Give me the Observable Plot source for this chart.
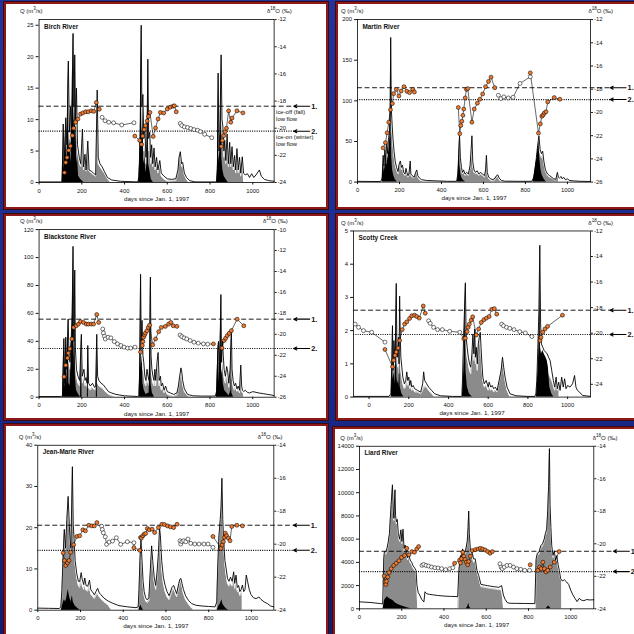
<!DOCTYPE html>
<html>
<head>
<meta charset="utf-8">
<script src="https://cdn.jsdelivr.net/npm/d3@7"></script>
<script src="https://cdn.jsdelivr.net/npm/@observablehq/plot@0.6"></script>
<style>
html,body{margin:0;padding:0;}
body{width:634px;height:634px;overflow:hidden;position:relative;
 background:linear-gradient(180deg,#22349c 0%,#1a2b8e 55%,#101d74 100%);
 font-family:'Liberation Sans',Arial,Helvetica,sans-serif;}
.panel{position:absolute;box-sizing:border-box;background:#fff;border:2px solid #8e1717;box-shadow:0 0 0 1px #3b0b10;}
.panel svg{position:absolute;left:-2px;top:-2px;}
.lab{position:absolute;font-size:6px;line-height:8px;color:#111;white-space:nowrap;}
.lab sup{font-size:4.5px;vertical-align:3px;line-height:0;}
</style>
</head>
<body>
<script>
// ---------- shared ticks ----------
const dayTicks = [0, 200, 400, 600, 800, 1000];

// ---------- Birch River ----------
const birchQ = [[0,0.1],[100,0.1],[108,0.3],[113,9.3],[118,3],[125,10.3],[130,6],[137,19.3],[142,8],[148,12],[152,6],[159,23.7],[163,12],[167,20.3],[171,10],[175,15],[180,6],[188,4],[195,3],[203,8.5],[208,2.5],[215,4.5],[220,2],[228,6.6],[234,2],[245,1.8],[255,1.5],[265,1.2],[272,14.7],[277,4],[285,3],[295,2.5],[305,1.8],[320,0.8],[340,0.4],[380,0.2],[462,0.1],
[468,1],[473,8],[478,25],[481,12],[486,14],[490,7],[495,9],[500,4],[505,6],[509,19.6],[513,7],[518,8],[522,4],[527,6],[532,3],[538,5.5],[543,2.5],[550,4],[556,2],[565,3.5],[572,1.5],[585,1],[600,0.6],[620,0.5],[640,0.6],[650,2],[655,4],[661,4.9],[667,3],[672,3.2],[680,1.5],[690,0.8],[705,0.3],[730,0.1],[830,0.1],
[835,2],[838,17.4],[842,5],[846,8],[852,20.3],[856,10],[860,9],[865,5],[869,6.7],[874,3.5],[880,7.7],[886,3],[892,6.4],[897,3],[903,5.7],[909,2.5],[915,4.3],[920,2],[926,5.4],[932,2],[938,4],[944,1.5],[951,4.1],[957,1.5],[965,1.2],[975,1.4],[985,0.8],[995,1.4],[1005,0.8],[1015,1.2],[1031,2],[1040,1],[1055,0.5],[1075,0.3],[1100,0.2]];
const birchGray = [[105,0],[113,5],[118,2],[125,6],[130,4],[137,9],[142,6],[148,8],[152,14],[156,18],[160,10],[165,21],[170,9],[175,11],[180,5],[190,3],[195,2.5],[203,7],[208,2],[215,4],[220,1.8],[228,5.5],[234,1.8],[245,1.5],[255,1.2],[265,1],[272,13],[277,3],[285,2.5],[295,2],[305,1.5],[320,0.6],[335,0],
[465,0],[472,4],[478,16],[482,8],[486,10],[490,5],[495,7],[500,3],[505,5],[509,12],[513,5],[518,7],[522,3],[527,5],[532,2.5],[538,4.5],[543,2],[550,3.5],[556,1.5],[565,3],[572,1],[585,0.5],[600,0.2],[640,0.3],[650,1.5],[655,3.5],[661,4.5],[667,2.5],[672,2.8],[680,1.2],[690,0.5],[700,0],
[832,0],[838,8],[842,4],[846,7],[852,12],[856,8],[860,7],[865,4],[869,6],[874,3],[880,6.5],[886,2.5],[892,5.5],[897,2.5],[903,5],[909,2],[915,3.5],[920,1.5],[926,4.5],[932,1.5],[938,3],[944,1],[951,3.5],[956,1.2],[957,0]];
const birchBlack = [[108,0],[112,4],[115,9.3],[118,2],[122,6],[125,10.3],[129,3],[133,8],[137,19.3],[140,5],[145,7],[148,3],[152,5],[156,14],[159,23.7],[162,8],[165,12],[167,20],[170,6],[173,9],[176,3],[180,4],[185,1],[195,0.5],[210,0],
[466,0],[470,3],[474,7],[478,25],[481,6],[484,9],[486,14],[489,3],[495,4],[500,1.5],[505,3],[509,19.6],[512,3],[518,2],[525,0.5],[535,0],
[832,0],[835,3],[838,17.4],[841,3],[846,5],[850,8],[852,20.3],[855,4],[860,2],[866,1],[875,0.5],[885,0]];
const birchIso = [[119,-23.27,"o",1],[125,-22.52,"o",1],[131,-22.16,"o",1],[139,-21.63,"o",1],[147,-21.31,"o",1],[156,-20.54,"o",1],[162,-20.0,"o",1],[171,-19.56,"o",1],[182,-19.32,"o",1],[194,-18.96,"o",1],[205,-18.87,"o",1],[218,-18.79,"o",1],[230,-18.79,"o",1],[244,-18.72,"o",1],[256,-18.76,"o",1],[268,-18.11,"o",1],[282,-18.6,"o",1],
[295,-19.2,"w",2],[309,-19.45,"w",2],[326,-19.56,"w",2],[349,-19.6,"w",2],[387,-19.76,"w",2],[444,-19.6,"w",2],
[448,-20.58,"o",3],[471,-20.9,"o",3],[480,-21.19,"o",3],[485,-20.58,"o",3],[492,-20.1,"o",3],[498,-19.81,"o",3],[506,-19.47,"o",3],[512,-19.13,"o",3],[519,-18.84,"o",3],[534,-20.61,"o",3],[545,-19.98,"o",3],[557,-19.32,"o",3],[568,-18.84,"o",3],[583,-18.88,"o",3],[600,-18.59,"o",3],[614,-18.45,"o",3],[627,-18.38,"o",3],[633,-18.35,"o",3],[642,-18.79,"o",3],
[661,-19.65,"w",4],[668,-19.8,"w",4],[680,-19.9,"w",4],[695,-19.95,"w",4],[710,-20.02,"w",4],[725,-20.1,"w",4],[742,-20.15,"w",4],[755,-20.25,"w",4],[775,-20.45,"w",4],[808,-20.7,"w",4],
[853,-21.34,"o",5],[858,-20.9,"o",5],[864,-20.56,"o",5],[870,-20.27,"o",5],[877,-20.0,"o",5],[887,-18.72,"o",5],[897,-19.56,"o",5],[903,-19.25,"o",5],[926,-18.72,"o",5],[954,-18.87,"o",5]];
const birchThr = [-18.38, -20.22];
const birchNotes = ["ice-off (fall)\nlow flow", "ice-on (winter)\nlow flow"];
const birchQTicks = [0, 5, 10, 15, 20, 25];
const birchDTicks = [-24, -22, -20, -18, -16, -14, -12];

// ---------- Martin River ----------
const martinQ = [[0,1],[50,0.8],[110,0.7],[118,5],[122,33],[126,20],[130,40],[134,25],[138,49],[142,35],[148,55],[152,61],[156,90],[158,178],[161,90],[165,70],[169,53],[174,38],[180,25],[186,18],[193,13],[198,22],[204,26],[209,18],[214,21],[220,12],[226,10],[231,17],[235,12],[240,8],[245,10],[251,26],[254,10],[260,8],[270,6],[277,12],[282,15],[287,8],[295,5],[305,3],[330,2],[380,1.5],[430,1],[472,1],
[478,10],[482,35],[486,57],[490,30],[495,18],[500,12],[505,15],[512,10],[520,12],[528,10],[536,20],[541,40],[545,57],[549,25],[555,15],[562,12],[570,14],[578,10],[585,12],[595,10],[605,8],[610,15],[614,33],[618,12],[625,6],[635,4],[645,3],[655,5],[662,8],[668,9],[675,5],[685,2],[700,1.2],[760,1],[830,1],
[838,5],[845,15],[852,30],[858,45],[864,57],[870,40],[876,35],[882,38],[888,25],[895,15],[905,10],[915,8],[925,6],[935,4],[945,3.5],[952,12],[957,6],[962,5],[970,7],[975,4],[982,6],[990,3],[1000,4],[1010,2],[1030,1.5],[1060,1],[1110,0.8]];
const martinGray = [[115,0],[120,20],[126,15],[130,30],[134,20],[138,40],[142,30],[148,45],[152,50],[156,70],[158,100],[161,75],[165,60],[169,45],[174,32],[180,20],[186,15],[193,10],[198,18],[204,22],[209,15],[214,17],[220,10],[226,8],[231,14],[235,10],[240,6],[245,8],[251,20],[254,8],[260,6],[270,5],[277,10],[282,12],[287,6],[295,3],[305,1],[315,0],
[474,0],[480,8],[484,25],[486,40],[490,25],[495,15],[500,10],[505,13],[512,8],[520,10],[528,8],[536,16],[541,30],[545,40],[549,20],[555,12],[562,10],[570,11],[578,8],[585,10],[595,8],[605,6],[610,12],[614,25],[618,10],[625,4],[635,2],[645,1],[655,3],[662,6],[668,7],[675,3],[685,0],
[835,0],[840,4],[845,12],[852,25],[858,38],[864,50],[870,35],[876,30],[882,32],[888,22],[895,13],[905,8],[915,6],[925,5],[935,3],[945,2.5],[952,9],[957,5],[957.5,0]];
const martinBlack = [[118,0],[121,30],[124,10],[128,25],[132,15],[136,35],[140,20],[145,30],[150,40],[155,60],[158,178],[160,60],[163,30],[167,15],[172,8],[180,3],[190,0],
[476,0],[480,15],[484,40],[486,57],[488,20],[492,10],[497,5],[505,2],[515,0],
[836,0],[842,8],[848,20],[855,30],[861,45],[864,50],[868,30],[874,15],[880,8],[890,3],[900,0]];
const martinIso = [[122,-23.05,"o",1],[133,-22.6,"o",1],[141,-21.75,"o",1],[149,-20.84,"o",1],[157,-19.77,"o",1],[166,-19.23,"o",1],[172,-18.38,"o",1],[185,-18.01,"o",1],[197,-18.58,"o",1],[208,-18.15,"o",1],[221,-17.78,"o",1],[235,-18.18,"o",1],[248,-18.29,"o",1],[263,-18.01,"o",1],[271,-18.24,"o",1],
[480,-19.57,"o",2],[487,-21.83,"o",2],[492,-21.13,"o",2],[497,-20.76,"o",2],[502,-20.25,"o",2],[506,-19.71,"o",2],[513,-18.75,"o",2],[519,-18.01,"o",2],[525,-17.95,"o",2],[545,-20.84,"o",2],[556,-19.71,"o",2],[571,-19.2,"o",2],[583,-18.86,"o",2],[596,-18.41,"o",2],[610,-17.78,"o",2],[624,-17.33,"o",2],[636,-16.96,"o",2],[654,-17.87,"o",2],
[671,-18.52,"w",3],[683,-18.8,"w",3],[697,-18.66,"w",3],[718,-18.75,"w",3],[741,-18.69,"w",3],[774,-17.5,"w",3],[823,-16.93,"w",3],[823,-16.59,"o",3],[862,-21.78,"o",3],[871,-20.98,"o",3],[878,-20.33,"o",3],[884,-20.22,"o",3],[890,-20.05,"o",3],[898,-19.94,"o",3],[906,-19.09,"o",3],[937,-18.72,"o",3],[964,-18.86,"o",3]];
const martinThr = [-17.87, -18.89];
const martinQTicks = [0, 50, 100, 150, 200];
const martinDTicks = [-26, -24, -22, -20, -18, -16, -14, -12];

// ---------- Blackstone River ----------
const blackstoneQ = [[0,0.5],[100,0.5],[110,1],[116,42],[120,10],[125,43],[130,20],[136,56],[140,30],[145,25],[150,40],[155,60],[159,108],[163,40],[167,91],[170,35],[175,20],[182,15],[190,12],[198,45],[202,15],[210,20],[215,12],[220,14],[225,10],[228,37],[232,10],[240,8],[250,10],[260,7],[265,8],[270,45],[274,15],[280,12],[290,10],[300,9],[310,7],[325,4],[340,3],[360,2],[400,1],[460,0.5],
[468,1],[472,30],[475,88],[478,40],[482,55],[486,30],[490,25],[495,15],[500,12],[505,20],[510,15],[515,12],[518,30],[521,86],[524,30],[528,20],[533,15],[538,12],[542,20],[546,12],[552,25],[557,32],[562,12],[568,15],[572,8],[578,10],[585,5],[592,8],[600,4],[615,3],[630,2],[645,3],[652,8],[658,15],[664,21],[668,18],[672,12],[680,6],[695,2],[720,1],[760,0.8],[825,0.8],
[832,5],[836,30],[840,40],[844,15],[848,45],[851,73.5],[854,25],[858,40],[862,30],[866,20],[872,15],[878,22],[883,18],[888,10],[894,20],[900,49],[903,20],[908,12],[914,8],[920,10],[926,6],[932,8],[938,5],[944,23],[948,8],[952,5],[958,4],[965,5],[975,3.5],[985,3],[1000,4],[1015,3.5],[1030,3],[1050,2.5],[1070,2],[1090,1.5],[1100,1]];
const blackstoneGray = [[110,0],[116,20],[120,8],[125,25],[130,15],[136,35],[140,25],[145,20],[150,30],[155,45],[159,60],[163,30],[167,50],[170,25],[175,15],[182,10],[190,8],[198,35],[202,10],[210,15],[215,8],[220,10],[225,7],[228,30],[232,7],[240,5],[250,7],[260,5],[265,6],[270,38],[274,10],[280,8],[290,7],[300,6],[310,4],[325,2],[340,1],[360,0],
[466,0],[472,15],[475,45],[478,25],[482,35],[486,20],[490,18],[495,10],[500,8],[505,15],[510,10],[515,8],[518,20],[521,50],[524,20],[528,15],[533,10],[538,8],[542,15],[546,8],[552,18],[557,25],[562,8],[568,10],[572,5],[578,7],[585,3],[592,5],[600,2],[615,1],[630,0.5],[645,1.5],[652,6],[658,12],[664,18],[668,14],[672,9],[680,4],[695,1],[710,0],
[828,0],[832,3],[836,20],[840,28],[844,10],[848,30],[851,40],[854,18],[858,30],[862,22],[866,14],[872,10],[878,16],[883,13],[888,7],[894,15],[900,35],[903,14],[908,8],[914,5],[920,7],[926,4],[932,6],[938,3],[944,18],[948,5],[952,3],[957,2.5],[957.5,0]];
const blackstoneBlack = [[110,0],[116,42],[119,5],[125,43],[129,8],[136,56],[139,10],[145,8],[150,25],[155,50],[159,108],[162,20],[167,91],[170,15],[175,5],[185,2],[194,0],[198,45],[201,0],[226,0],[228,37],[231,0],[268,0],[270,45],[273,0],
[468,0],[472,25],[475,88],[478,20],[482,30],[486,10],[492,5],[500,2],[515,3],[518,25],[521,86],[524,10],[530,3],[540,0],
[830,0],[834,20],[837,35],[840,40],[843,10],[848,40],[851,73.5],[854,15],[858,20],[862,10],[868,5],[878,3],[890,1],[898,5],[900,49],[902,3],[910,0]];
const blackstoneIso = [[117,-24.05,"o",1],[125,-22.95,"o",1],[133,-22.26,"o",1],[137,-21.79,"o",1],[144,-21.38,"o",1],[154,-20.44,"o",1],[162,-19.34,"o",1],[174,-19.18,"o",1],[184,-19.02,"o",1],[194,-18.77,"o",1],[208,-18.86,"o",1],[221,-19.02,"o",1],[231,-19.02,"o",1],[244,-19.02,"o",1],[255,-19.02,"o",1],[270,-18.11,"o",1],[279,-18.86,"o",1],
[298,-19.49,"w",2],[301,-19.87,"w",2],[306,-20.18,"w",2],[310,-20.44,"w",2],[323,-20.28,"w",2],[336,-20.34,"w",2],[352,-20.69,"w",2],[367,-20.91,"w",2],[383,-21.06,"w",2],[398,-21.22,"w",2],[414,-21.31,"w",2],[429,-21.31,"w",2],[449,-21.22,"w",2],
[475,-21.69,"o",3],[483,-21.06,"o",3],[486,-20.69,"o",3],[489,-20.28,"o",3],[494,-20.06,"o",3],[498,-19.87,"o",3],[505,-19.65,"o",3],[511,-19.34,"o",3],[517,-19.12,"o",3],[532,-21.0,"o",3],[545,-20.44,"o",3],[560,-19.74,"o",3],[572,-19.34,"o",3],[591,-19.24,"o",3],[606,-19.02,"o",3],[617,-18.86,"o",3],[628,-19.18,"o",3],[645,-19.24,"o",3],
[660,-20.06,"w",4],[668,-20.22,"w",4],[679,-20.34,"w",4],[691,-20.44,"w",4],[707,-20.59,"w",4],[725,-20.75,"w",4],[745,-20.84,"w",4],[769,-20.91,"w",4],[789,-20.94,"w",4],[816,-20.91,"o",4],
[856,-21.31,"o",5],[866,-20.59,"o",5],[873,-20.37,"o",5],[881,-20.12,"o",5],[890,-19.9,"o",5],[900,-19.65,"o",5],[927,-18.55,"o",5],[958,-19.18,"o",5]];
const blackstoneThr = [-18.55, -21.35];
const blackstoneQTicks = [0, 20, 40, 60, 80, 100, 120];
const blackstoneDTicks = [-26, -24, -22, -20, -18, -16, -14, -12, -10];

// ---------- Scotty Creek ----------
const scottyQ = [[-78,0.02],[0,0.02],[100,0.02],[110,0.1],[115,1],[118,2.15],[121,0.8],[125,1.7],[130,1.2],[134,2],[137,3.42],[140,1.5],[144,1.2],[148,1.8],[151,1],[154,3.04],[157,1.9],[160,1.2],[165,0.9],[170,0.6],[178,0.4],[185,0.5],[190,0.76],[195,0.5],[200,0.6],[205,0.35],[210,0.5],[215,0.3],[222,0.35],[230,0.25],[245,0.2],[260,0.15],[270,0.4],[275,0.76],[280,0.5],[290,0.4],[300,0.3],[315,0.2],[330,0.1],[360,0.04],[420,0.02],[465,0.02],
[468,0.05],[472,0.8],[476,1.8],[480,2.5],[485,3.44],[489,1.8],[494,1.5],[500,1.2],[506,1.0],[512,0.9],[518,1.3],[523,1.9],[528,1.3],[532,2.05],[536,1.2],[540,1.5],[545,1.0],[550,1.6],[555,1.8],[560,1.95],[564,1.5],[568,1.06],[573,0.6],[580,0.4],[590,0.5],[600,0.3],[605,0.45],[613,0.3],[620,0.35],[628,0.25],[636,0.3],[645,0.2],[655,0.5],[665,0.8],[672,1.2],[678,0.9],[685,0.6],[695,0.3],[710,0.1],[740,0.04],[800,0.02],[835,0.02],
[840,0.1],[845,0.5],[850,1.5],[855,2.5],[860,4.57],[864,2.2],[868,1.6],[875,1.5],[882,1.4],[890,1.35],[897,1.3],[904,1.2],[912,1.1],[920,0.8],[928,0.5],[935,0.3],[942,0.6],[948,0.25],[955,0.45],[962,0.2],[970,0.6],[978,0.3],[985,0.55],[992,0.25],[1000,0.35],[1012,0.3],[1025,0.4],[1035,0.65],[1042,0.3],[1050,0.2],[1060,0.15],[1075,0.05],[1115,0.02]];
const scottyGray = [[112,0],[116,0.8],[118,1.5],[121,0.6],[125,1.2],[130,0.9],[134,1.4],[137,2.2],[140,1.1],[144,0.9],[148,1.3],[151,0.7],[154,1.9],[157,1.2],[160,0.8],[165,0.6],[170,0.4],[178,0.25],[185,0.3],[190,0.55],[195,0.35],[200,0.45],[205,0.25],[210,0.35],[215,0.2],[222,0.25],[230,0.15],[245,0.15],[260,0.1],[270,0.2],[275,0.3],[280,0.3],[290,0.3],[300,0.2],[315,0.1],[330,0],
[468,0],[472,0.6],[476,1.4],[480,2.0],[485,2.8],[489,1.5],[494,1.2],[500,1.0],[506,0.8],[512,0.7],[518,1.1],[523,1.7],[528,1.1],[532,1.85],[536,1.0],[540,1.3],[545,0.8],[550,1.4],[555,1.6],[560,1.8],[564,1.3],[568,0.9],[573,0.5],[580,0.3],[590,0.35],[600,0.2],[605,0.3],[613,0.2],[620,0.25],[628,0.15],[636,0.2],[645,0.15],[655,0.45],[665,0.75],[672,1.1],[678,0.8],[685,0.5],[695,0.2],[710,0],
[842,0],[845,0.3],[850,1.0],[855,1.8],[860,3.2],[864,1.6],[868,1.2],[875,1.0],[882,0.9],[890,0.8],[897,0.8],[904,0.7],[912,0.6],[920,0.5],[928,0.35],[935,0.2],[942,0.4],[948,0.2],[955,0.35],[957,0.3],[957.5,0]];
const scottyBlack = [[112,0],[116,1.0],[118,2.15],[121,0.5],[125,0.8],[130,0.4],[134,1.0],[137,3.42],[140,0.6],[144,0.4],[148,0.5],[151,0.3],[154,1.2],[157,0.3],[165,0.1],[175,0],
[470,0],[475,0.5],[480,1.2],[485,3.44],[488,0.8],[495,0.3],[505,0.1],[520,0],
[843,0],[848,0.5],[853,1.0],[858,2.0],[860,4.57],[863,1.5],[868,1.3],[875,1.4],[882,1.3],[890,1.2],[897,1.1],[903,0.9],[910,0.3],[920,0.1],[930,0]];
const scottyIso = [[-70,-19.29,"w",1],[-53,-19.54,"w",1],[-28,-19.8,"w",1],[13,-19.93,"w",1],[80,-20.7,"w",1],
[80,-21.27,"o",2],[118,-22.63,"o",2],[124,-22.12,"o",2],[131,-21.73,"o",2],[137,-21.47,"o",2],[146,-21.16,"o",2],[154,-20.57,"o",2],[167,-19.72,"o",2],[179,-19.29,"o",2],[190,-19.11,"o",2],[204,-18.85,"o",2],[215,-18.64,"o",2],[229,-18.59,"o",2],[240,-18.69,"o",2],[253,-18.82,"o",2],[273,-17.87,"o",2],[283,-18.44,"o",2],
[300,-19.03,"w",3],[308,-19.23,"w",3],[325,-19.54,"w",3],[345,-19.72,"w",3],[369,-19.72,"w",3],[406,-19.85,"w",3],[457,-19.93,"w",3],
[477,-20.44,"o",3],[485,-20.39,"o",3],[494,-19.88,"o",3],[499,-19.54,"o",3],[505,-19.29,"o",3],[514,-18.98,"o",3],[522,-18.72,"o",3],[540,-20.14,"o",3],[552,-19.67,"o",3],[565,-19.16,"o",3],[578,-18.95,"o",3],[591,-18.82,"o",3],[605,-18.69,"o",3],[618,-18.13,"o",3],[631,-18.08,"o",3],[643,-18.51,"o",3],
[668,-19.29,"w",4],[677,-19.42,"w",4],[692,-19.54,"w",4],[709,-19.62,"w",4],[730,-19.72,"w",4],[759,-19.88,"w",4],[787,-19.98,"w",4],[820,-20.26,"w",4],
[861,-20.57,"o",5],[866,-20.32,"o",5],[875,-19.93,"o",5],[886,-19.67,"o",5],[899,-19.47,"o",5],[974,-18.59,"o",5]];
const scottyThr = [-18.2, -20.1];
const scottyQTicks = [0, 1, 2, 3, 4, 5];
const scottyDTicks = [-24, -22, -20, -18, -16, -14, -12];

// ---------- Jean-Marie River ----------
const jeanMarieQ = [[0,0.5],[50,0.45],[100,0.4],[108,0.8],[113,5],[118,12.5],[124,19.6],[130,15],[136,22],[142,27.6],[146,22.8],[150,18],[155,15],[162,34.8],[166,20.8],[170,17.2],[175,12],[182,9],[190,7],[196,6.9],[203,9.1],[208,7.5],[215,6.2],[220,7.8],[226,6],[234,5.8],[242,7.3],[248,5],[255,4.5],[265,3.7],[272,4.5],[280,5.3],[288,4.2],[295,3.8],[310,2.9],[330,2.2],[350,1.7],[380,1.1],[420,0.8],[460,0.6],
[470,0.8],[474,5],[478,12],[483,17],[488,12],[493,7],[498,4.5],[505,3],[512,2.5],[520,3],[527,10],[533,15.6],[538,12],[545,8],[552,6],[558,9],[565,14],[570,20],[574,18],[580,12],[588,8],[596,6],[605,4.5],[615,3.5],[628,5.5],[636,6],[643,5],[650,4],[660,6.5],[665,7.5],[670,7.7],[675,6.5],[682,5],[692,3.5],[705,2.4],[720,1.6],[740,1.2],[770,1],[800,0.9],[830,0.8],
[838,2],[842,10],[848,18],[854,22],[858,25],[862,32],[866,22],[870,17],[876,12],[882,10],[888,7.7],[895,7],[902,8],[910,7],[917,9.3],[922,6.5],[928,8.5],[934,5.5],[940,6],[946,4.5],[952,5],[958,6.1],[964,4.5],[970,5],[976,8.5],[982,7],[990,5],[998,3.8],[1010,3],[1022,2.8],[1035,3.2],[1045,2.6],[1060,2],[1075,1.6],[1090,1],[1105,0.8]];
const jeanMarieGray = [[108,0],[113,4],[118,12],[124,19],[130,14.5],[136,21],[142,27],[146,22],[150,17.5],[155,14.5],[162,34],[166,20],[170,16.5],[175,11],[182,8],[190,6],[196,5.5],[203,7.5],[208,6],[215,5],[220,6.2],[226,4.8],[234,4.6],[242,5.8],[248,3.8],[255,3.5],[265,2.8],[272,3.5],[280,4.0],[288,3.2],[295,2.8],[310,2],[330,1.2],[345,0],
[470,0],[474,4.5],[478,11],[483,16],[488,11],[493,6],[498,3.5],[505,2.2],[512,1.8],[520,2.2],[527,8.5],[533,14],[538,11],[545,7],[552,5],[558,7.5],[565,12.5],[570,18.5],[574,16],[580,10],[588,6.5],[596,4.5],[605,3.2],[615,2.5],[628,4.5],[636,5.2],[643,4.2],[650,3.2],[660,5.5],[665,6.8],[670,7],[675,5.8],[682,4],[692,2.5],[705,1.5],[720,0.5],[730,0],
[836,0],[842,9],[848,17],[854,21],[858,24],[862,31],[866,21],[870,16],[876,11],[882,8.5],[888,6.5],[895,5.8],[902,6.5],[910,5.8],[917,7.8],[922,5.2],[928,7],[934,4.5],[940,4.8],[946,3.5],[952,4],[957,4.8],[957.5,0]];
const jeanMarieBlack = [[110,0],[118,1.5],[124,2.5],[130,2],[136,3],[142,5],[146,4],[150,3],[155,2],[162,3.5],[166,2],[175,1],[190,0.3],[200,0],
[474,0],[478,0.8],[483,1.2],[488,0.5],[495,0],
[840,0],[848,1],[854,1.5],[858,2],[862,2.5],[866,1.5],[875,0.8],[885,0.2],[895,0]];
const jeanMarieIso = [[119,-20.53,"o",1],[125,-20.99,"o",1],[131,-21.29,"o",1],[139,-21.13,"o",1],[146,-20.99,"o",1],[154,-20.49,"o",1],[168,-20.03,"o",1],[183,-19.53,"o",1],[196,-19.49,"o",1],[211,-19.13,"o",1],[223,-19.19,"o",1],[239,-18.85,"o",1],[253,-18.89,"o",1],[265,-18.89,"o",1],[277,-18.69,"o",1],
[299,-18.91,"w",2],[302,-19.11,"w",2],[307,-19.31,"w",2],[316,-19.55,"w",2],[322,-20.01,"w",2],[334,-19.87,"w",2],[350,-19.81,"w",2],[368,-19.61,"w",2],[388,-20.01,"w",2],[419,-19.85,"w",2],[450,-19.91,"w",2],[450,-20.21,"o",2],[478,-20.37,"o",2],
[481,-19.59,"o",3],[485,-19.63,"o",3],[492,-19.49,"o",3],[498,-19.39,"o",3],[505,-19.35,"o",3],[513,-19.05,"o",3],[522,-19.13,"o",3],[535,-19.09,"o",3],[547,-19.29,"o",3],[565,-18.99,"o",3],[581,-18.79,"o",3],[593,-18.81,"o",3],[607,-18.89,"o",3],[621,-18.95,"o",3],[636,-18.99,"o",3],[652,-18.79,"o",3],
[666,-19.79,"w",4],[669,-19.99,"w",4],[675,-19.85,"w",4],[683,-19.79,"w",4],[693,-19.85,"w",4],[703,-19.69,"w",4],[716,-19.95,"w",4],[735,-19.99,"w",4],[755,-19.99,"w",4],[778,-19.99,"w",4],[797,-19.99,"w",4],[820,-20.19,"w",4],
[820,-19.53,"o",5],[858,-20.25,"o",5],[863,-20.05,"o",5],[869,-19.85,"o",5],[874,-19.59,"o",5],[878,-19.33,"o",5],[884,-19.49,"o",5],[892,-19.63,"o",5],[900,-19.79,"o",5],[908,-18.93,"o",5],[932,-18.85,"o",5],[958,-18.89,"o",5]];
const jeanMarieThr = [-18.85, -20.37];
const jeanMarieQTicks = [0, 10, 20, 30, 40];
const jeanMarieDTicks = [-24, -22, -20, -18, -16, -14];

// ---------- Liard River ----------
const liardQ = [[0,600],[50,550],[100,450],[110,420],[115,4300],[118,4930],[125,4900],[130,5200],[136,5720],[142,6500],[146,7800],[150,9000],[156,10680],[160,8500],[163,7800],[168,10250],[171,8000],[175,7500],[179,7700],[184,6500],[190,6000],[196,6800],[201,5800],[206,6860],[211,5200],[216,5500],[222,5000],[228,4400],[234,4700],[240,4200],[247,4020],[254,3700],[262,3500],[268,3300],[272,2040],[278,1400],[285,1190],[295,800],[305,600],[310,1470],[318,1300],[330,1250],[350,1200],[370,1150],[400,1100],[430,1070],[465,1050],
[470,3170],[474,4000],[478,4590],[483,4400],[488,5160],[495,4800],[502,5000],[510,5800],[514,7000],[517,8420],[520,6500],[525,5000],[533,4870],[540,4300],[548,4300],[556,3300],[564,2890],[575,2100],[590,2050],[605,2000],[620,1950],[640,1900],[660,1850],[673,2000],[681,1190],[690,800],[700,520],[712,480],[740,470],[780,460],[830,450],
[836,4300],[842,4800],[850,4900],[858,5440],[866,5600],[874,6000],[880,6500],[886,6860],[891,8500],[895,10540],[899,13800],[902,9000],[906,7000],[910,5440],[916,4600],[922,5000],[928,4200],[934,4590],[940,3800],[946,3300],[952,2600],[960,2400],[970,2500],[980,2320],[990,2100],[1000,1600],[1010,1200],[1020,900],[1030,620],[1040,900],[1050,750],[1062,700],[1075,800],[1090,765],[1109,780]];
const liardGray = [[113,0],[115,4000],[118,4700],[125,4700],[130,5000],[136,5500],[142,6300],[146,7600],[150,8800],[156,10400],[160,8300],[163,7600],[168,10000],[171,7800],[175,7300],[179,7500],[184,6300],[190,5800],[196,6600],[201,5600],[206,6600],[211,5000],[216,5300],[222,4800],[228,4200],[234,4500],[240,4000],[247,3800],[254,3500],[262,3300],[268,3100],[272,1800],[276,0],
[466,0],[470,3000],[474,3800],[478,4400],[483,4200],[488,5000],[495,4600],[502,4800],[510,5600],[514,6800],[517,8200],[520,6300],[525,4800],[533,4600],[540,4000],[548,4100],[556,3200],[564,2700],[575,1900],[590,1850],[605,1800],[620,1750],[640,1700],[660,1650],[672,1600],[678,900],[682,0],
[833,0],[836,4100],[842,4600],[850,4700],[858,5200],[866,5400],[874,5800],[880,6300],[886,6600],[891,8300],[895,10300],[899,13500],[902,8800],[906,6800],[910,5200],[916,4400],[922,4800],[928,4000],[934,4400],[940,3600],[946,3100],[952,2500],[957,2900],[957.5,0]];
const liardBlack = [[112,0],[118,700],[125,900],[132,1050],[140,900],[150,800],[160,700],[170,500],[185,350],[200,250],[215,150],[230,80],[245,0],
[505,0],[512,150],[517,480],[521,150],[528,0],
[884,0],[890,150],[895,250],[900,150],[906,0]];
const liardIso = [[117,-21.98,"o",1],[121,-22.34,"o",1],[125,-22.5,"o",1],[128,-22.3,"o",1],[134,-22.04,"o",1],[140,-21.77,"o",1],[150,-21.53,"o",1],[162,-21.33,"o",1],[174,-21.19,"o",1],[187,-21.04,"o",1],[199,-20.84,"o",1],[213,-20.72,"o",1],[224,-20.28,"o",1],[234,-20.68,"o",1],[248,-20.48,"o",1],[260,-20.52,"o",1],[271,-20.32,"o",1],[280,-20.17,"o",1],
[296,-21.33,"w",2],[304,-21.27,"w",2],[315,-21.33,"w",2],[327,-21.37,"w",2],[341,-21.43,"w",2],[357,-21.47,"w",2],[372,-21.49,"w",2],[389,-21.53,"w",2],[408,-21.59,"w",2],[427,-21.53,"w",2],[442,-21.47,"w",2],[450,-21.2,"o",2],[474,-21.0,"o",2],
[478,-21.17,"o",3],[483,-20.92,"o",3],[489,-20.52,"o",3],[494,-20.76,"o",3],[500,-20.96,"o",3],[506,-21.13,"o",3],[512,-21.29,"o",3],[517,-21.09,"o",3],[525,-20.76,"o",3],[533,-20.42,"o",3],[548,-20.36,"o",3],[561,-20.32,"o",3],[572,-20.28,"o",3],[583,-20.32,"o",3],[595,-20.38,"o",3],[607,-20.48,"o",3],[618,-20.58,"o",3],[629,-20.48,"o",3],
[665,-21.23,"w",4],[670,-21.43,"w",4],[676,-21.53,"w",4],[685,-21.43,"w",4],[698,-21.33,"w",4],[713,-21.33,"w",4],[729,-21.43,"w",4],[745,-21.53,"w",4],[763,-21.57,"w",4],[782,-21.63,"w",4],[805,-21.63,"w",4],
[808,-21.29,"o",5],
[844,-21.63,"o",6],[852,-21.43,"o",6],[860,-21.53,"o",6],[868,-21.13,"o",6],[875,-21.53,"o",6],[883,-21.73,"o",6],[891,-21.63,"o",6],[903,-21.43,"o",6],[922,-21.13,"o",6],[945,-20.48,"o",6]];
const liardThr = [-20.46, -21.71];
const liardQTicks = [0, 2000, 4000, 6000, 8000, 10000, 12000, 14000];
const liardDTicks = [-24, -22, -20, -18, -16, -14];

const thresholdLabels = ["1.", "2."];

// ---------- layout (page pixels) ----------
const panels = [
  {title:"Birch River", box:[4,2,328,209], frame:[39,19.3,277,184.3], xd:[0,1100], qd:[0,25.9], dd:[-24,-12],
   q:birchQ, gray:birchGray, black:birchBlack, iso:birchIso, thr:birchThr, qt:birchQTicks, dt:birchDTicks, notes:birchNotes, dlx:-10},
  {title:"Martin River", box:[336,2,644,209], frame:[357.3,19.3,593.4,184], xd:[0,1110], qd:[0,200], dd:[-26,-12],
   q:martinQ, gray:martinGray, black:martinBlack, iso:martinIso, thr:martinThr, qt:martinQTicks, dt:martinDTicks, dlx:-5},
  {title:"Blackstone River", box:[4,214,328,420], frame:[39,229.3,277,399], xd:[0,1100], qd:[0,120], dd:[-26,-10],
   q:blackstoneQ, gray:blackstoneGray, black:blackstoneBlack, iso:blackstoneIso, thr:blackstoneThr, qt:blackstoneQTicks, dt:blackstoneDTicks, dlx:-14},
  {title:"Scotty Creek", box:[336,214,644,420], frame:[353.3,230.7,593.3,399], xd:[-78,1115], qd:[0,5], dd:[-25,-12],
   q:scottyQ, gray:scottyGray, black:scottyBlack, iso:scottyIso, thr:scottyThr, qt:scottyQTicks, dt:scottyDTicks, dlx:-5},
  {title:"Jean-Marie River", box:[4,424,328,644], frame:[37.7,445,276.7,612], xd:[0,1105], qd:[0,40], dd:[-24,-14],
   q:jeanMarieQ, gray:jeanMarieGray, black:jeanMarieBlack, iso:jeanMarieIso, thr:jeanMarieThr, qt:jeanMarieQTicks, dt:jeanMarieDTicks, dlx:-19},
  {title:"Liard River", box:[333,427,644,644], frame:[359.3,446,596.7,610.7], xd:[0,1109], qd:[0,14000], dd:[-24,-14],
   q:liardQ, gray:liardGray, black:liardBlack, iso:liardIso, thr:liardThr, qt:liardQTicks, dt:liardDTicks, dlx:-4}
];

const FONT = "'Liberation Sans', Arial, Helvetica, sans-serif";
const ORANGE = "#ef7a30";
const GRAY = "#8b8b8b";
const X = d => d[0], Y = d => d[1];

for (const p of panels) {
  const [bl, bt, br, bb] = p.box;
  const [fl, ft, fr, fb] = p.frame;
  const W = br - bl, H = bb - bt;
  const margins = {marginLeft: fl - bl, marginTop: ft - bt, marginRight: br - fr, marginBottom: bb - fb};
  const pxPerDay = (fr - fl) / (p.xd[1] - p.xd[0]);
  const xAt = px => p.xd[1] + px / pxPerDay;   // px to the right of the frame
  const style = {background: "transparent", fontFamily: FONT, fontSize: "6px", overflow: "visible", color: "#111"};

  const div = document.createElement("div");
  div.className = "panel";
  div.style.left = bl + "px"; div.style.top = bt + "px";
  div.style.width = W + "px"; div.style.height = H + "px";
  document.body.appendChild(div);

  const plotQ = Plot.plot({
    width: W, height: H, ...margins, style,
    x: {domain: p.xd},
    y: {domain: p.qd},
    marks: [
      Plot.areaY(p.gray, {x: X, y: Y, fill: GRAY}),
      Plot.lineY(p.gray, {x: X, y: Y, stroke: "white", strokeWidth: 0.7}),
      Plot.areaY(p.black, {x: X, y: Y, fill: "black"}),
      Plot.lineY(p.q, {x: X, y: Y, stroke: "black", strokeWidth: 0.9}),
      Plot.frame({stroke: "black", strokeWidth: 0.8}),
      Plot.axisY({anchor: "left", ticks: p.qt, tickSize: 3, tickPadding: 2.5, tickFormat: d => String(d), label: null}),
      Plot.axisX({ticks: dayTicks, tickSize: 2.5, tickPadding: 3.5, tickFormat: d => String(d), label: null}),
      Plot.text(["days since Jan. 1, 1997"], {frameAnchor: "bottom", dy: 16.5, lineAnchor: "middle", fontSize: 6.3}),
      Plot.text([p.title], {frameAnchor: "top-left", dx: 5, dy: 4.5, lineAnchor: "top", textAnchor: "start", fontWeight: "bold", fontSize: 6.5})
    ]
  });

  const isoMarks = [
    Plot.ruleY([p.thr[0]], {x1: p.xd[0], x2: xAt(21), stroke: "black", strokeWidth: 0.9, strokeDasharray: "5,2.6"}),
    Plot.ruleY([p.thr[1]], {x1: p.xd[0], x2: xAt(21), stroke: "black", strokeWidth: 1.2, strokeDasharray: "1,1.3"}),
    Plot.arrow(p.thr, {x1: xAt(36), x2: xAt(20), y: d => d, stroke: "black", strokeWidth: 1.1, headLength: 4.5, headAngle: 55}),
    Plot.text(p.thr, {x: xAt(37.5), y: d => d, text: (d, i) => thresholdLabels[i], textAnchor: "start", fontWeight: "bold", fontSize: 7.5}),
    Plot.line(p.iso, {x: X, y: Y, z: d => d[3], stroke: "black", strokeWidth: 0.6}),
    Plot.dot(p.iso, {x: X, y: Y, r: 2, fill: d => d[2] === "o" ? ORANGE : "white", stroke: "black", strokeWidth: 0.55}),
    Plot.axisY({anchor: "right", ticks: p.dt, tickSize: 2, tickPadding: 1.5, tickFormat: d => String(d), label: null})
  ];
  if (p.notes) {
    isoMarks.push(Plot.text(p.thr, {x: xAt(2), y: d => d, dy: 3, text: (d, i) => p.notes[i], textAnchor: "start", lineAnchor: "top", fontSize: 6, lineHeight: 1.15}));
  }
  const plotD = Plot.plot({
    width: W, height: H, ...margins, style,
    x: {domain: p.xd, axis: null},
    y: {domain: p.dd},
    color: {type: "identity"},
    marks: isoMarks
  });

  div.appendChild(plotQ);
  div.appendChild(plotD);

  const ql = document.createElement("div");
  ql.className = "lab";
  ql.innerHTML = "Q (m<sup>3</sup>/s)";
  ql.style.left = Math.max(3, fl - bl - 21) + "px";
  ql.style.top = (ft - bt - 14) + "px";
  div.appendChild(ql);

  const dl = document.createElement("div");
  dl.className = "lab";
  dl.innerHTML = "&delta;<sup>18</sup>O (&permil;)";
  dl.style.left = (fr - bl - 2 + p.dlx) + "px";
  dl.style.top = (ft - bt - 14) + "px";
  div.appendChild(dl);
}
</script>
</body>
</html>
